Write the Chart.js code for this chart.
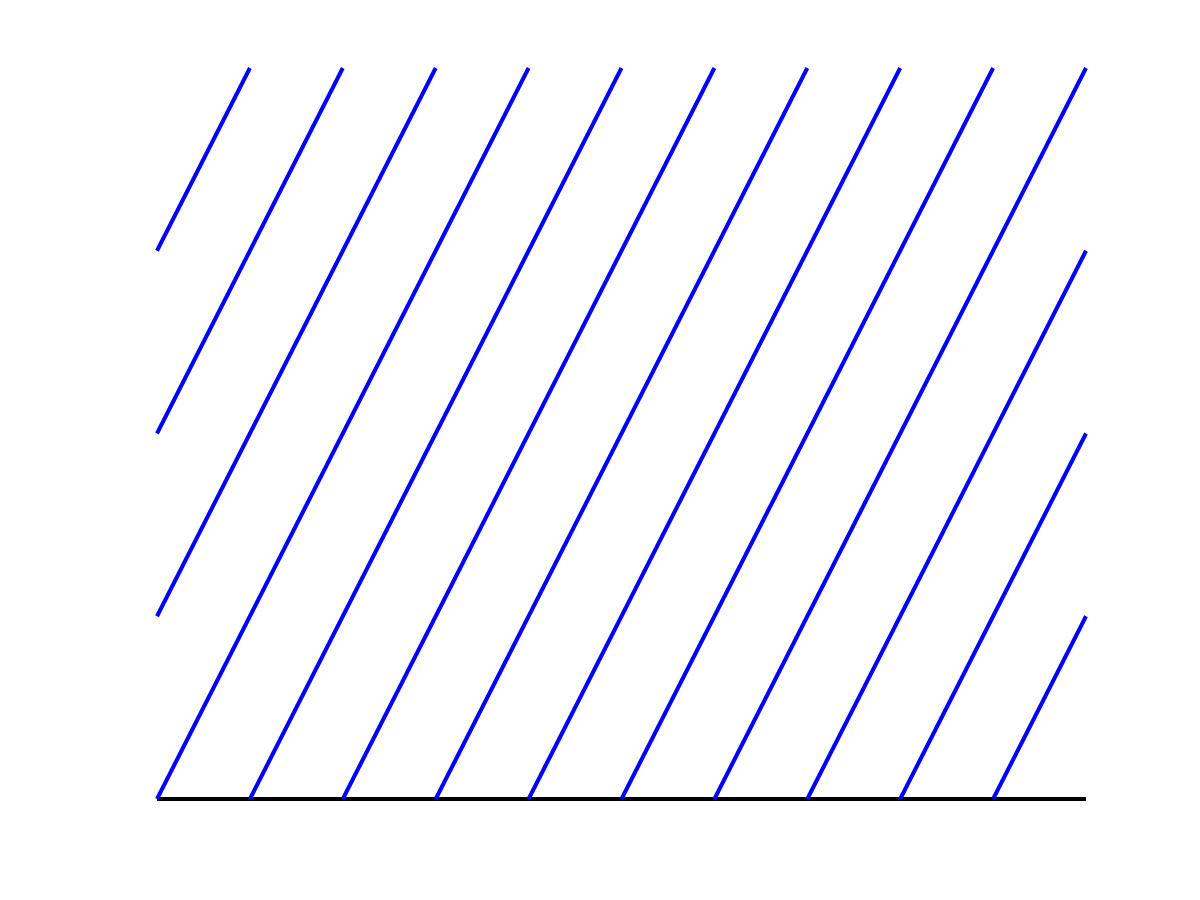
<!DOCTYPE html>
<html>
<head>
<meta charset="utf-8">
<script src="https://cdn.jsdelivr.net/npm/chart.js@4"></script>
<style>
html,body{margin:0;padding:0;background:#fff;}
canvas{display:block;}
</style>
</head>
<body>
<canvas id="c" width="1200" height="900"></canvas>
<script>
// Hatch lines: each segment from (xStart, yStart) to (xEnd, yEnd)
const xStart = [0, 0, 0, 0, 1, 2, 3, 4, 5, 6, 7, 8, 9];
const yStart = [3, 2, 1, 0, 0, 0, 0, 0, 0, 0, 0, 0, 0];
const xEnd   = [1, 2, 3, 4, 5, 6, 7, 8, 9, 10, 10, 10, 10];
const yEnd   = [4, 4, 4, 4, 4, 4, 4, 4, 4, 4, 3, 2, 1];
// Baseline
const baseX = [0, 10];
const baseY = [0, 0];
const xRange = [0, 10];
const yRange = [0, 4];

const datasets = xStart.map((x0, i) => ({
  data: [{x: x0, y: yStart[i]}, {x: xEnd[i], y: yEnd[i]}],
  borderColor: '#0000ff',
  borderWidth: 4,
  showLine: true,
  pointRadius: 0,
  clip: false,
  borderCapStyle: 'butt'
}));
datasets.push({
  data: baseX.map((x, i) => ({x: x, y: baseY[i]})),
  borderColor: '#000000',
  borderWidth: 4,
  showLine: true,
  pointRadius: 0,
  clip: false
});

new Chart(document.getElementById('c'), {
  type: 'scatter',
  data: { datasets },
  options: {
    responsive: false,
    animation: false,
    layout: { padding: { left: 157, right: 114, top: 68, bottom: 101 } },
    plugins: { legend: { display: false }, tooltip: { enabled: false } },
    scales: {
      x: { type: 'linear', min: xRange[0], max: xRange[1], display: false },
      y: { type: 'linear', min: yRange[0], max: yRange[1], display: false }
    }
  }
});
</script>
</body>
</html>
